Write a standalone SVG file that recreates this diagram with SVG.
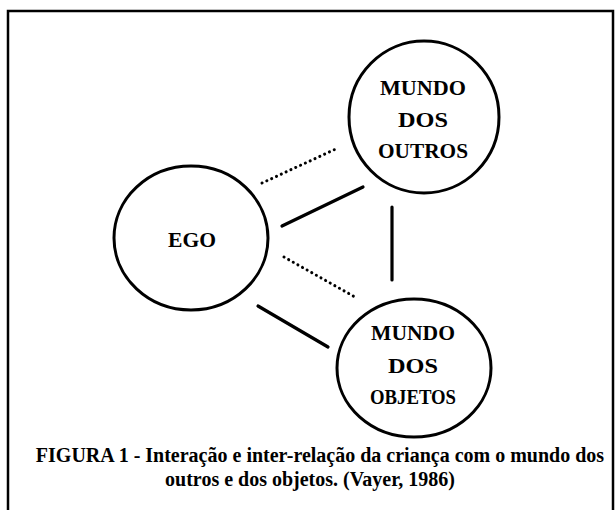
<svg xmlns="http://www.w3.org/2000/svg" width="616" height="510" viewBox="0 0 616 510">
<style>
.node{fill:none;stroke:#000;stroke-width:3}
.lbl{font-family:"Liberation Serif","Times New Roman",serif;font-size:22px;font-weight:bold;text-anchor:middle;fill:#000}
.cap{font-family:"Liberation Serif","Times New Roman",serif;font-size:20px;font-weight:bold;text-anchor:middle;fill:#000}
.solid{stroke:#000;stroke-width:3.2;stroke-linecap:round;fill:none}
.dot{stroke:#000;stroke-width:3;stroke-linecap:round;stroke-dasharray:0.1 5.2;fill:none}
</style>
<rect x="0" y="0" width="616" height="510" fill="#fff"/>
<rect id="frame" x="8" y="11" width="605" height="520" fill="none" stroke="#000" stroke-width="2.5"/>
<g id="connectors">
<line class="dot" x1="262" y1="183" x2="338" y2="148"/>
<line class="solid" x1="282" y1="226" x2="363" y2="187"/>
<line class="solid" x1="392" y1="207" x2="392" y2="280"/>
<line class="dot" x1="284" y1="257" x2="355" y2="297"/>
<line class="solid" x1="258" y1="306" x2="328" y2="347"/>
</g>
<g id="ego">
<ellipse class="node" cx="191" cy="238" rx="77" ry="72"/>
<text class="lbl" x="192" y="247" textLength="48" lengthAdjust="spacingAndGlyphs">EGO</text>
</g>
<g id="mundo-outros">
<ellipse class="node" cx="424" cy="117" rx="75" ry="76"/>
<text class="lbl" x="423" y="95" textLength="86" lengthAdjust="spacingAndGlyphs">MUNDO</text>
<text class="lbl" x="423" y="127" textLength="50" lengthAdjust="spacingAndGlyphs">DOS</text>
<text class="lbl" x="423" y="158" textLength="90" lengthAdjust="spacingAndGlyphs">OUTROS</text>
</g>
<g id="mundo-objetos">
<ellipse class="node" cx="414" cy="368" rx="77" ry="69"/>
<text class="lbl" x="413" y="340" textLength="84" lengthAdjust="spacingAndGlyphs">MUNDO</text>
<text class="lbl" x="413" y="373" textLength="50" lengthAdjust="spacingAndGlyphs">DOS</text>
<text class="lbl" x="413" y="404" textLength="86" lengthAdjust="spacingAndGlyphs">OBJETOS</text>
</g>
<g id="caption">
<text class="cap" x="320" y="462">FIGURA 1 - Interação e inter-relação da criança com o mundo dos</text>
<text class="cap" x="310" y="486">outros e dos objetos. (Vayer, 1986)</text>
</g>
</svg>
